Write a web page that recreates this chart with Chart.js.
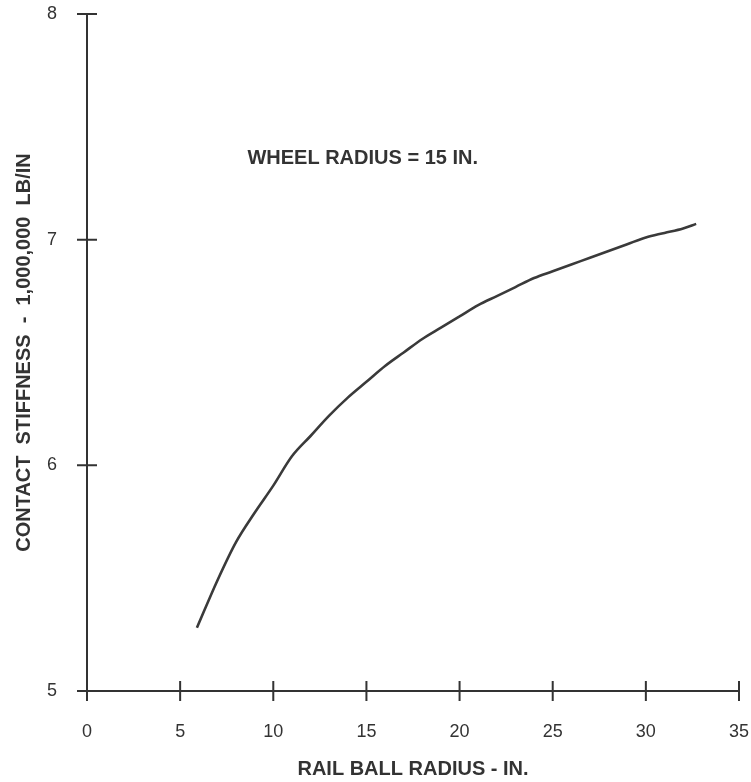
<!DOCTYPE html>
<html>
<head>
<meta charset="utf-8">
<script src="https://cdn.jsdelivr.net/npm/chart.js@4.4.1/dist/chart.umd.min.js"></script>
<style>
  html, body { margin: 0; padding: 0; background: #ffffff; }
  #wrap { width: 751px; height: 782px; position: relative; }
</style>
</head>
<body>
<div id="wrap"><canvas id="c" width="751" height="782"></canvas></div>
<script>
// ---- data ----
const railBallRadius = [5.9, 7, 8, 9, 10, 11, 12, 13, 14, 15, 16, 17, 18, 19, 20, 21, 22, 23, 24, 25, 26, 27, 28, 29, 30, 31, 32, 32.7];
const contactStiffness = [5.28, 5.49, 5.66, 5.79, 5.91, 6.04, 6.13, 6.22, 6.30, 6.37, 6.44, 6.50, 6.56, 6.61, 6.66, 6.71, 6.75, 6.79, 6.83, 6.86, 6.89, 6.92, 6.95, 6.98, 7.01, 7.03, 7.05, 7.07];
const xTicks = [0, 5, 10, 15, 20, 25, 30, 35];
const yTicks = [5, 6, 7, 8];
const xTitle = 'RAIL BALL RADIUS - IN.';
const yTitle = 'CONTACT  STIFFNESS  -  1,000,000  LB/IN';
const note = { text: 'WHEEL RADIUS = 15 IN.', x: 14.8, y: 7.36 };

const INK = '#333333';
const FONT = "'Liberation Sans', Arial, Helvetica, sans-serif";

const axesPlugin = {
  id: 'axesPlugin',
  afterDatasetsDraw(chart) {
    const ctx = chart.ctx;
    const xs = chart.scales.x, ys = chart.scales.y;
    const x0 = xs.getPixelForValue(0), x1 = xs.getPixelForValue(35);
    const y0 = ys.getPixelForValue(5), y1 = ys.getPixelForValue(8);
    ctx.save();
    ctx.strokeStyle = INK;
    ctx.lineWidth = 2;
    ctx.lineCap = 'butt';
    ctx.beginPath();
    ctx.moveTo(x0, y0); ctx.lineTo(x0, y1);
    ctx.moveTo(x0 - 10, y0); ctx.lineTo(x1, y0);
    xTicks.forEach(v => {
      const px = xs.getPixelForValue(v);
      ctx.moveTo(px, y0 - 10); ctx.lineTo(px, y0 + 10);
    });
    yTicks.forEach(v => {
      const py = ys.getPixelForValue(v);
      ctx.moveTo(x0 - 10, py); ctx.lineTo(x0 + 10, py);
    });
    ctx.stroke();
    // annotation
    ctx.fillStyle = INK;
    ctx.font = "bold 20px " + FONT;
    ctx.textAlign = 'center';
    ctx.textBaseline = 'middle';
    ctx.fillText(note.text, xs.getPixelForValue(note.x), ys.getPixelForValue(note.y));
    ctx.restore();
  }
};

new Chart(document.getElementById('c'), {
  type: 'line',
  data: {
    datasets: [{
      data: railBallRadius.map((x, i) => ({ x: x, y: contactStiffness[i] })),
      borderColor: '#3a3a3a',
      borderWidth: 2.6,
      pointRadius: 0,
      fill: false,
      cubicInterpolationMode: 'monotone'
    }]
  },
  options: {
    responsive: false,
    animation: false,
    devicePixelRatio: 1,
    layout: { padding: { top: 14, right: 12, left: 0, bottom: 0 } },
    plugins: { legend: { display: false }, tooltip: { enabled: false } },
    scales: {
      x: {
        type: 'linear',
        min: 0, max: 35,
        afterBuildTicks: s => { s.ticks = xTicks.map(v => ({ value: v })); },
        afterFit: s => { s.height = 91; s.paddingLeft = 0; s.paddingRight = 0; },
        grid: { display: false, drawTicks: false },
        border: { display: false },
        ticks: { color: INK, font: { family: FONT, size: 18 }, padding: 30, maxRotation: 0, autoSkip: false },
        title: { display: true, text: xTitle, color: INK, font: { family: FONT, size: 20, weight: 'bold' }, padding: { top: 0, bottom: 1 } }
      },
      y: {
        type: 'linear',
        min: 5, max: 8,
        afterBuildTicks: s => { s.ticks = yTicks.map(v => ({ value: v })); },
        afterFit: s => { s.width = 87; s.paddingTop = 0; s.paddingBottom = 0; },
        grid: { display: false, drawTicks: false },
        border: { display: false },
        ticks: { color: INK, font: { family: FONT, size: 18 }, padding: 30, autoSkip: false },
        title: { display: true, text: yTitle, color: INK, font: { family: FONT, size: 20, weight: 'bold' }, padding: { top: 12, bottom: 0 } }
      }
    }
  },
  plugins: [axesPlugin]
});
</script>
</body>
</html>
